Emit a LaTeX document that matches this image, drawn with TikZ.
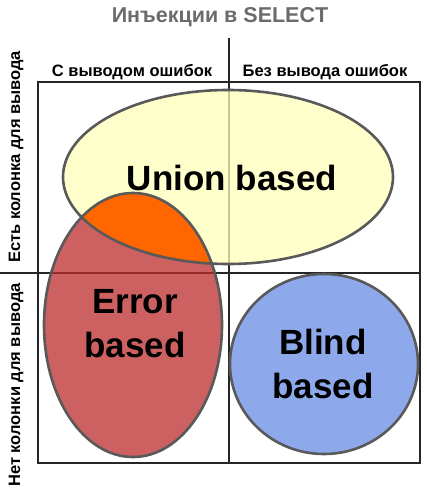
\documentclass[tikz,border=0pt]{standalone}
\usepackage{fontspec}
\setmainfont{Liberation Sans}
\begin{document}
\begin{tikzpicture}[x=1pt,y=-1pt,
  grid/.style={draw=black!85,line width=1.3pt},
  bord/.style={draw=black!65,line width=2.6pt},
  big/.style={font=\fontsize{35}{44}\selectfont\bfseries,align=center,inner sep=0pt},
  lab/.style={font=\fontsize{16.5}{18}\selectfont\bfseries,inner sep=0pt},
  ttl/.style={font=\fontsize{21.5}{24}\selectfont\bfseries,text=black!58,inner sep=0pt}]
\definecolor{yel}{RGB}{255,255,187}
\definecolor{red1}{RGB}{188,44,44}
\definecolor{org}{RGB}{255,102,0}
\definecolor{blu}{RGB}{141,168,235}
\useasboundingbox (0,0) rectangle (427,493);
% grid
\draw[grid] (38,82) rectangle (420,463);
\draw[grid] (229,38) -- (229,463);
\draw[grid] (0,273) -- (420,273);
% fills
\fill[yel,fill opacity=.75] (228,177) ellipse [x radius=165pt, y radius=87pt];
\fill[red1,fill opacity=.75] (133,325) ellipse [x radius=89pt, y radius=132pt];
\begin{scope}
  \clip (228,177) ellipse [x radius=165pt, y radius=87pt];
  \fill[org] (133,325) ellipse [x radius=89pt, y radius=132pt];
\end{scope}
\fill[blu] (324,364) ellipse [x radius=94pt, y radius=90pt];
% borders
\draw[bord] (228,177) ellipse [x radius=165pt, y radius=87pt];
\draw[bord] (133,325) ellipse [x radius=89pt, y radius=132pt];
\draw[bord] (324,364) ellipse [x radius=94pt, y radius=90pt];
% texts
\node[ttl,anchor=base] (title) at (220,22) {Инъекции в SELECT};
\node[lab,anchor=base] (c1) at (132,76) {С выводом ошибок};
\node[lab,anchor=base] (c2) at (325,76) {Без вывода ошибок};
\node[lab,rotate=90] (r1) at (16,157) {Есть колонка для вывода};
\node[lab,rotate=90] (r2) at (16,385) {Нет колонки для вывода};
\node[big,anchor=base] (union) at (232,190) {Union based};
\node[big] (error) at (135,324) {Error\\based};
\node[big] (blind) at (323,364) {Blind\\based};
\end{tikzpicture}
\end{document}
